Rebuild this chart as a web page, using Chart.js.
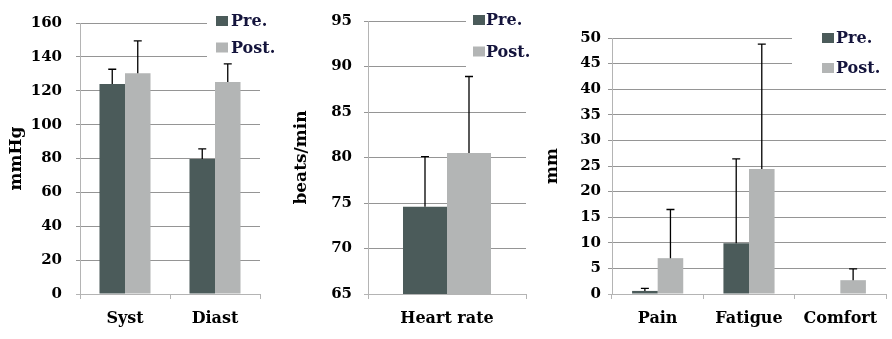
<!DOCTYPE html>
<html>
<head>
<meta charset="utf-8">
<script src="https://cdn.jsdelivr.net/npm/chart.js@4.4.1/dist/chart.umd.min.js"></script>
<style>
    html, body { margin: 0; padding: 0; background: #fff; }
    #wrap { position: relative; width: 892px; height: 339px; overflow: hidden; }
    #wrap canvas { position: absolute; top: 0; }
</style>
</head>
<body>
<div id="wrap">
    <canvas id="bpChart" width="290" height="339" style="left:0px"></canvas>
    <canvas id="hrChart" width="255" height="339" style="left:285px"></canvas>
    <canvas id="vasChart" width="352" height="339" style="left:540px"></canvas>
</div>
<script>
// Blood pressure (mmHg)
const bpLabels = ['Syst', 'Diast'];
const bpPre = [124, 79.7];
const bpPost = [130.4, 125.2];
const bpPreSd = [8.7, 6];
const bpPostSd = [19.1, 10.7];

// Heart rate (beats/min)
const hrLabels = ['Heart rate'];
const hrPre = [74.6];
const hrPost = [80.5];
const hrPreSd = [5.5];
const hrPostSd = [8.4];

// Visual analogue scales (mm)
const vasLabels = ['Pain', 'Fatigue', 'Comfort'];
const vasPre = [0.6, 9.9, null];
const vasPost = [7.0, 24.4, 2.7];
const vasPreSd = [0.5, 16.5, null];
const vasPostSd = [9.5, 24.4, 2.2];

const seriesNames = ['Pre.', 'Post.'];

const PRE_COLOR = '#4b5b5a';
const POST_COLOR = '#b3b5b5';
const GRID = '#959595';
const AXIS = '#b4b4b4';
const FONT = 'DejaVu Serif';

// one-sided (upward) error bars
const errorBars = {
    id: 'errorBars',
    afterDatasetsDraw(chart) {
        const ctx = chart.ctx;
        const yScale = chart.scales.y;
        ctx.save();
        ctx.strokeStyle = '#000';
        ctx.lineWidth = 1.3;
        chart.data.datasets.forEach((ds, i) => {
            const meta = chart.getDatasetMeta(i);
            meta.data.forEach((bar, j) => {
                const v = ds.data[j];
                const sd = ds.sd[j];
                if (v == null || sd == null) return;
                const top = yScale.getPixelForValue(v + sd);
                ctx.beginPath();
                ctx.moveTo(bar.x, bar.y);
                ctx.lineTo(bar.x, top);
                ctx.moveTo(bar.x - 4, top);
                ctx.lineTo(bar.x + 4, top);
                ctx.stroke();
            });
        });
        ctx.restore();
    }
};

// legend drawn over the top-right of the plot, hiding the grid behind it
const boxLegend = {
    id: 'boxLegend',
    beforeDatasetsDraw(chart, args, opts) {
        const ctx = chart.ctx;
        ctx.save();
        ctx.fillStyle = '#fff';
        ctx.fillRect(opts.clearX, 0, chart.width - opts.clearX, opts.clearH);
        ctx.font = 'bold 16px "' + FONT + '"';
        ctx.textBaseline = 'middle';
        ctx.textAlign = 'left';
        chart.data.datasets.forEach((ds, i) => {
            const y = opts.rows[i];
            ctx.fillStyle = ds.backgroundColor;
            ctx.fillRect(opts.boxX, y - 5, 12, 10);
            ctx.fillStyle = '#14143c';
            ctx.fillText(ds.label, opts.textX, y + 1);
        });
        ctx.restore();
    }
};

const makeDatasets = (pre, post, preSd, postSd) => [
    { label: seriesNames[0], data: pre, sd: preSd, backgroundColor: PRE_COLOR },
    { label: seriesNames[1], data: post, sd: postSd, backgroundColor: POST_COLOR }
];

const buildChart = (canvasId, labels, datasets, cfg) => {
    const ctx = document.getElementById(canvasId).getContext('2d');
    return new Chart(ctx, {
        type: 'bar',
        data: { labels: labels, datasets: datasets },
        options: {
            responsive: false,
            animation: false,
            devicePixelRatio: 1,
            layout: { padding: { left: 0, right: cfg.padRight, top: cfg.padTop, bottom: 0 } },
            datasets: {
                bar: { categoryPercentage: cfg.catPct, barPercentage: 1 }
            },
            plugins: {
                legend: { display: false },
                tooltip: { enabled: false },
                boxLegend: cfg.legend
            },
            scales: {
                x: {
                    afterFit: (s) => { s.height = 45; },
                    grid: {
                        display: true,
                        drawOnChartArea: false,
                        tickLength: 5,
                        color: AXIS
                    },
                    border: { color: AXIS },
                    ticks: {
                        padding: 10,
                        color: '#000',
                        font: { family: FONT, weight: 'bold', size: 16 }
                    }
                },
                y: {
                    min: cfg.min,
                    max: cfg.max,
                    afterFit: (s) => { s.width = cfg.yWidth; },
                    grid: {
                        tickLength: 4,
                        color: (c) => (c.tick && c.tick.value === cfg.min) ? AXIS : GRID
                    },
                    border: { color: AXIS },
                    ticks: {
                        stepSize: cfg.step,
                        padding: cfg.tickPad,
                        color: '#000',
                        font: { family: FONT, weight: 'bold', size: 15 }
                    },
                    title: {
                        display: true,
                        text: cfg.title,
                        color: '#000',
                        padding: { top: cfg.titlePad, bottom: 0 },
                        font: { family: FONT, weight: 'bold', size: 17 }
                    }
                }
            }
        },
        plugins: [boxLegend, errorBars]
    });
};

buildChart('bpChart', bpLabels, makeDatasets(bpPre, bpPost, bpPreSd, bpPostSd), {
    min: 0, max: 160, step: 20, title: 'mmHg',
    yWidth: 80, padRight: 30, padTop: 17, tickPad: 14, titlePad: 6, catPct: 0.567,
    legend: { clearX: 207, clearH: 62, boxX: 216, textX: 231, rows: [21, 47.5] }
});

buildChart('hrChart', hrLabels, makeDatasets(hrPre, hrPost, hrPreSd, hrPostSd), {
    min: 65, max: 95, step: 5, title: 'beats/min',
    yWidth: 83, padRight: 14, padTop: 18, tickPad: 12, titlePad: 6, catPct: 0.557,
    legend: { clearX: 181, clearH: 68, boxX: 188, textX: 201, rows: [20, 51.5] }
});

buildChart('vasChart', vasLabels, makeDatasets(vasPre, vasPost, vasPreSd, vasPostSd), {
    min: 0, max: 50, step: 5, title: 'mm',
    yWidth: 72, padRight: 6, padTop: 38, tickPad: 7, titlePad: 2, catPct: 0.56,
    legend: { clearX: 252, clearH: 80, boxX: 282, textX: 296, rows: [38, 68] }
});
</script>
</body>
</html>
